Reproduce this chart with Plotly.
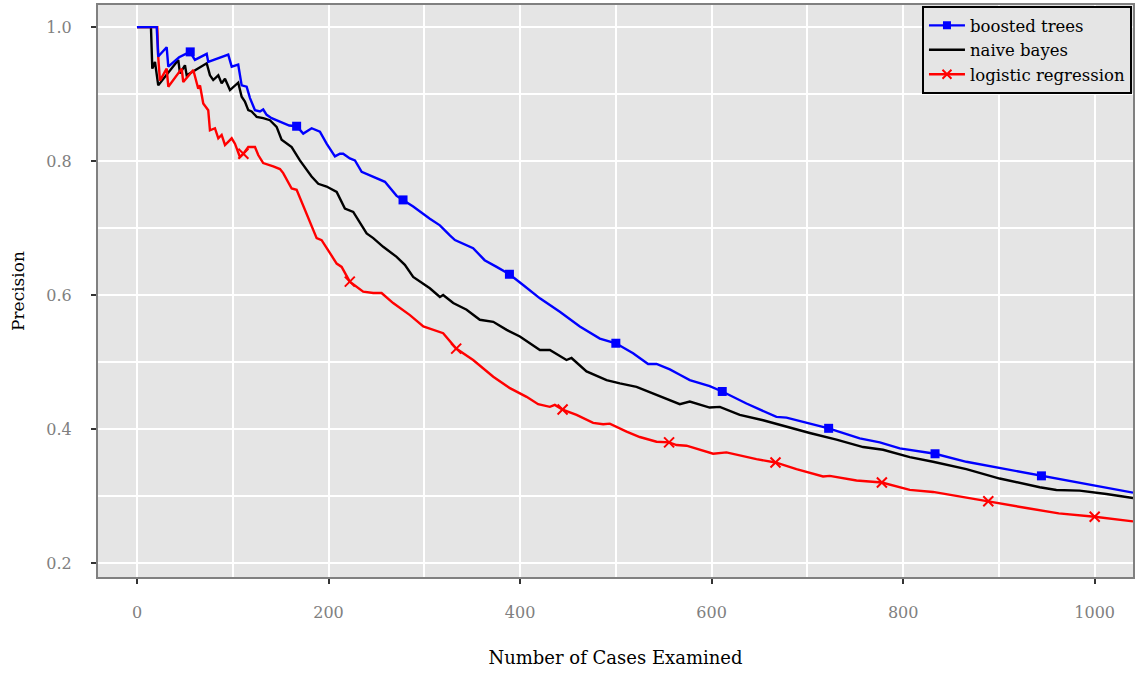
import plotly.graph_objects as go

# ---- data ----
bt_x = [0, 20.6, 22.2, 31.0, 32.7, 44, 55.3, 60.5, 72.8, 74.4, 95.3, 98.9, 105.7, 109.3, 114.5, 118, 123.2,
        128.4, 131.8, 135.4, 140.6, 145.8, 152.7, 159, 166.7, 173.6, 182.4, 191, 198, 206.7, 211.9, 215.3,
        222.3, 227.6, 234.6, 246.7, 258.9, 271.1, 277.8, 288.4, 305.8, 316.3, 326.7, 332, 351, 363, 375.5,
        388.9, 403.2, 420.7, 441.5, 462.4, 483.3, 500, 518, 533.7, 542.5, 556.4, 566.8, 577.2, 598, 611.1,
        636.4, 667.7, 678.2, 702.5, 722.2, 754.7, 775.6, 796.5, 806.9, 833.3, 866, 911.3, 944.4, 998.2, 1040]
bt_y = [1.0, 1.0, 0.956, 0.970, 0.941, 0.955, 0.963, 0.951, 0.960, 0.948, 0.959, 0.941, 0.944, 0.913, 0.911,
        0.894, 0.876, 0.874, 0.877, 0.869, 0.864, 0.861, 0.856, 0.853, 0.852, 0.841, 0.849, 0.844, 0.826,
        0.807, 0.811, 0.811, 0.804, 0.801, 0.784, 0.777, 0.769, 0.748, 0.742, 0.732, 0.714, 0.704, 0.689,
        0.682, 0.670, 0.652, 0.642, 0.631, 0.615, 0.595, 0.575, 0.553, 0.535, 0.528, 0.513, 0.497, 0.497,
        0.489, 0.481, 0.473, 0.464, 0.456, 0.438, 0.418, 0.417, 0.408, 0.401, 0.386, 0.380, 0.371, 0.369,
        0.363, 0.351, 0.339, 0.330, 0.316, 0.305]

nb_x = [0, 14.6, 16, 18.8, 22.2, 43.1, 44.9, 50.1, 51.9, 72.8, 76.2, 79.6, 84.9, 88.4, 91.9, 97.1, 105.7,
        109.3, 112.7, 116.2, 119.7, 125, 131.8, 138.8, 145.8, 151, 161.5, 170.1, 182.3, 189.3, 198, 208.5,
        217.1, 225.8, 239.8, 246.7, 257.1, 271.1, 279.7, 288.4, 305.8, 316.3, 319.7, 330.2, 344.2, 358, 372,
        386, 399.8, 420.7, 431.1, 448.5, 453.7, 469.4, 490.3, 504.2, 521.6, 542.5, 556.4, 566.8, 577.2, 598,
        608.6, 629.4, 653.8, 678.2, 702.5, 730.4, 758.2, 779, 806.9, 831.2, 866, 900.8, 942.6, 960, 984.3,
        1012.2, 1040]
nb_y = [1.0, 1.0, 0.938, 0.948, 0.913, 0.951, 0.931, 0.943, 0.928, 0.946, 0.928, 0.921, 0.928, 0.916, 0.923,
        0.906, 0.917, 0.896, 0.889, 0.876, 0.874, 0.866, 0.864, 0.861, 0.851, 0.832, 0.821, 0.801, 0.777,
        0.766, 0.762, 0.754, 0.729, 0.724, 0.692, 0.685, 0.672, 0.657, 0.645, 0.627, 0.610, 0.597, 0.600,
        0.588, 0.578, 0.563, 0.560, 0.548, 0.538, 0.518, 0.518, 0.503, 0.506, 0.486, 0.473, 0.468, 0.463,
        0.451, 0.442, 0.437, 0.441, 0.432, 0.433, 0.421, 0.413, 0.403, 0.394, 0.384, 0.373, 0.369, 0.358,
        0.351, 0.340, 0.326, 0.313, 0.309, 0.308, 0.303, 0.297]

lr_x = [0, 21.2, 22.2, 24, 31, 32.7, 46.7, 48.3, 58.8, 61.3, 64, 65.8, 69.2, 74.4, 76.2, 81.4, 84.9, 88.4,
        91.9, 98.9, 102.3, 107.5, 111.1, 116.2, 123.2, 126.6, 131.8, 142.3, 149.3, 152.7, 161.5, 166.7,
        171.9, 180.6, 187.6, 192.8, 201.5, 208.5, 213.7, 222.2, 236.2, 246.7, 255.4, 267.5, 285, 299, 319.7,
        333.3, 351, 372, 389.4, 406.8, 418.9, 431.1, 436.3, 444.4, 459, 476.3, 486.8, 493.7, 511.2, 525,
        542.5, 555.6, 563.4, 573.8, 601.6, 615.5, 646.8, 666.7, 688.6, 716.4, 723.4, 751.3, 777.8, 806.9,
        831.2, 866, 888.9, 928.7, 962.5, 1000, 1040]
lr_y = [1.0, 1.0, 0.955, 0.920, 0.938, 0.911, 0.938, 0.918, 0.936, 0.921, 0.908, 0.913, 0.886, 0.876, 0.846,
        0.849, 0.834, 0.839, 0.824, 0.834, 0.826, 0.806, 0.811, 0.821, 0.821, 0.809, 0.797, 0.792, 0.788,
        0.782, 0.759, 0.757, 0.739, 0.707, 0.685, 0.682, 0.662, 0.647, 0.642, 0.620, 0.605, 0.603, 0.603,
        0.588, 0.570, 0.553, 0.543, 0.520, 0.503, 0.478, 0.461, 0.448, 0.437, 0.433, 0.436, 0.429, 0.421,
        0.409, 0.407, 0.408, 0.396, 0.388, 0.381, 0.380, 0.376, 0.375, 0.363, 0.365, 0.355, 0.350, 0.340,
        0.329, 0.330, 0.323, 0.320, 0.309, 0.306, 0.297, 0.292, 0.282, 0.274, 0.269, 0.262]

bt_mx = [55.6, 166.7, 277.8, 388.9, 500, 611.1, 722.2, 833.3, 944.4]
bt_my = [0.963, 0.852, 0.742, 0.631, 0.528, 0.456, 0.401, 0.363, 0.330]
lr_mx = [111.1, 222.2, 333.3, 444.4, 555.6, 666.7, 777.8, 888.9, 1000]
lr_my = [0.811, 0.620, 0.520, 0.429, 0.380, 0.350, 0.320, 0.292, 0.269]

names = ["boosted trees", "naive bayes", "logistic regression"]
colors = ["#0000ff", "#000000", "#ff0000"]

FONT = "DejaVu Serif"
LW = 2.4

fig = go.Figure()
# lines (drawing order: naive bayes, logistic regression, boosted trees on top)
for xs, ys, c in [(nb_x, nb_y, colors[1]), (lr_x, lr_y, colors[2]), (bt_x, bt_y, colors[0])]:
    fig.add_trace(go.Scatter(x=xs, y=ys, mode="lines", line=dict(color=c, width=LW),
                             showlegend=False, hoverinfo="skip"))
# markers
fig.add_trace(go.Scatter(x=bt_mx, y=bt_my, mode="markers", showlegend=False, hoverinfo="skip",
                         marker=dict(symbol="square", size=9, color=colors[0])))
fig.add_trace(go.Scatter(x=lr_mx, y=lr_my, mode="markers", showlegend=False, hoverinfo="skip",
                         marker=dict(symbol="x-thin", size=10, color=colors[2],
                                     line=dict(color=colors[2], width=2))))
# legend entries
fig.add_trace(go.Scatter(x=[None], y=[None], mode="lines+markers", name=names[0],
                         line=dict(color=colors[0], width=LW),
                         marker=dict(symbol="square", size=8, color=colors[0])))
fig.add_trace(go.Scatter(x=[None], y=[None], mode="lines", name=names[1],
                         line=dict(color=colors[1], width=LW)))
fig.add_trace(go.Scatter(x=[None], y=[None], mode="lines+markers", name=names[2],
                         line=dict(color=colors[2], width=LW),
                         marker=dict(symbol="x-thin", size=9, color=colors[2],
                                     line=dict(color=colors[2], width=2))))

fig.update_layout(
    width=1135, height=675,
    margin=dict(l=98, r=2, t=5, b=98),
    paper_bgcolor="white",
    plot_bgcolor="#e5e5e5",
    font=dict(family=FONT, size=16, color="black"),
    legend=dict(x=0.999, y=0.998, xanchor="right", yanchor="top",
                bgcolor="#e5e5e5", bordercolor="black", borderwidth=2,
                font=dict(family=FONT, size=16.5, color="black"),
                tracegroupgap=0, itemwidth=36),
    xaxis=dict(
        range=[-40.7, 1040], tickvals=[0, 200, 400, 600, 800, 1000],
        showgrid=True, gridcolor="white", gridwidth=2,
        minor=dict(dtick=100, tick0=0, showgrid=True, gridcolor="white", gridwidth=1.5, ticklen=0),
        zeroline=False, automargin=False,
        showline=True, linecolor="#808080", linewidth=2, mirror=True,
        ticks="outside", ticklen=5, tickwidth=1.5, tickcolor="#333333",
        tickfont=dict(family=FONT, size=16, color="#808080"),
        ticklabelstandoff=15,
        title=dict(text="Number of Cases Examined", font=dict(family=FONT, size=18, color="black"),
                   standoff=30),
    ),
    yaxis=dict(
        range=[0.179, 1.033], tickvals=[0.2, 0.4, 0.6, 0.8, 1.0], ticktext=["0.2", "0.4", "0.6", "0.8", "1.0"],
        showgrid=True, gridcolor="white", gridwidth=2,
        minor=dict(dtick=0.1, tick0=0, showgrid=True, gridcolor="white", gridwidth=1.5, ticklen=0),
        zeroline=False, automargin=False,
        showline=True, linecolor="#808080", linewidth=2, mirror=True,
        ticks="outside", ticklen=5, tickwidth=1.5, tickcolor="#333333",
        tickfont=dict(family=FONT, size=16, color="#808080"),
        ticklabelstandoff=16,
        title=dict(text="Precision", font=dict(family=FONT, size=17, color="black"), standoff=17),
    ),
)

fig.write_html("out.html", config={"displayModeBar": False},
               post_script="document.body.style.margin='0';")
